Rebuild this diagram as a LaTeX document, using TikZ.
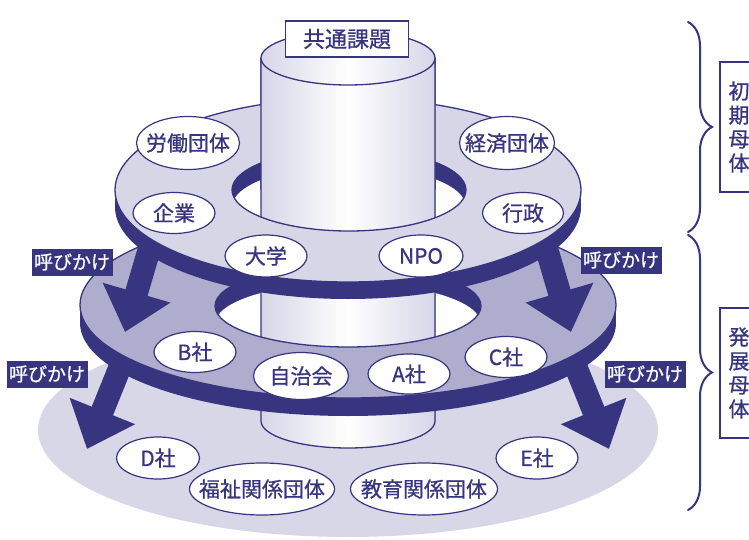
\documentclass[tikz,border=0pt]{standalone}
\usepackage{fontspec}
\setmainfont{Noto Sans CJK JP}[UprightFeatures={FakeBold=0.8}]
\usetikzlibrary{shapes.geometric,arrows.meta,decorations.pathreplacing}
\definecolor{navy}{HTML}{37357F}
\definecolor{disca}{HTML}{D6D6E7}
\definecolor{discb}{HTML}{AEADCD}
\definecolor{basec}{HTML}{D7D7E8}
\definecolor{cylc}{HTML}{D6D6E8}
\newcommand\pillarbody{%
  \fill[left color=cylc,right color=cylc,middle color=white] (261,58) -- (261,421) arc[start angle=180,end angle=0,x radius=87,y radius=27] -- (435,58) -- cycle;
  \draw[navy,line width=1.3] (261,58) -- (261,421) arc[start angle=180,end angle=0,x radius=87,y radius=27] -- (435,58);
}
\tikzset{
  lab/.style={ellipse,draw=navy,fill=white,line width=1.2,text=navy,inner xsep=-45pt,inner ysep=-15pt,font=\fontsize{21}{21}\selectfont},
  callbox/.style={rectangle,fill=navy,text=white,inner sep=0pt,minimum width=81,minimum height=27,font=\fontsize{19}{19}\selectfont},
  bigarrow/.style={navy,line width=23pt,-{Triangle[length=41pt,width=68pt]}},
  bracestyle/.style={navy,line width=2,line cap=round,decorate,decoration={brace,amplitude=24pt}},
  vbox/.style={navy,line width=1.3},
  vtext/.style={text=navy,align=center,inner sep=0pt,font=\fontsize{21}{24}\selectfont}
}
\begin{document}
\begin{tikzpicture}[x=1pt,y=-1pt]
\useasboundingbox (0,0) rectangle (749,540);
% base level
\fill[basec] (348,430) ellipse (310 and 107);
% lower arrows
\coordinate (lla) at (127,350);
\coordinate (llb) at (87,449);
\coordinate (lra) at (569,350);
\coordinate (lrb) at (609,449);
\draw[bigarrow] (lla) -- (llb);
\draw[bigarrow] (lra) -- (lrb);
% pillar
\pillarbody
% second disc
\fill[navy] (348,323) ellipse (268 and 93);
\fill[navy] (80,305) rectangle (616,323);
\filldraw[fill=discb,draw=navy,line width=1.3] (348,305) ellipse (268 and 93);
\fill[navy] (348,306) ellipse (133 and 41);
\begin{scope}
  \clip (348,306) ellipse (133 and 41);
  \fill[white] (348,324) ellipse (133 and 41);
  \pillarbody
\end{scope}
\draw[navy,line width=1.3] (348,306) ellipse (133 and 41);
% second-level labels
\node[lab,minimum width=82,minimum height=41] (b) at (195,352) {B社};
\node[lab,minimum width=95,minimum height=47] (jichi) at (301,376) {自治会};
\node[lab,minimum width=82,minimum height=40] (a) at (409,374) {A社};
\node[lab,minimum width=82,minimum height=41] (c) at (506,357) {C社};
% third-level labels
\node[lab,minimum width=83,minimum height=42] (d) at (158,458) {D社};
\node[lab,minimum width=145,minimum height=52] (fukushi) at (262,489) {福祉関係団体};
\node[lab,minimum width=147,minimum height=52] (kyoiku) at (424,489) {教育関係団体};
\node[lab,minimum width=82,minimum height=42] (e) at (537,458) {E社};
% upper arrows
\coordinate (ula) at (152,240);
\coordinate (ulb) at (125,332);
\coordinate (ura) at (544,240);
\coordinate (urb) at (571,332);
\draw[bigarrow] (ula) -- (ulb);
\draw[bigarrow] (ura) -- (urb);
% top disc
\fill[navy] (348,207) ellipse (233 and 92);
\fill[navy] (115,190) rectangle (581,207);
\filldraw[fill=disca,draw=navy,line width=1.3] (348,190) ellipse (233 and 92);
\fill[navy] (349,190) ellipse (117 and 41);
\begin{scope}
  \clip (349,190) ellipse (117 and 41);
  \fill[white] (349,207) ellipse (117 and 41);
  \pillarbody
\end{scope}
\draw[navy,line width=1.3] (349,190) ellipse (117 and 41);
\begin{scope}
  \clip (0,0) rectangle (749,190);
  \pillarbody
\end{scope}
% pillar top
\filldraw[left color=cylc,right color=cylc,middle color=white,draw=navy,line width=1.3] (348,58) ellipse (87 and 27);
\node[rectangle,draw=navy,fill=white,line width=1.3,text=navy,minimum width=123,minimum height=36,inner sep=0pt,font=\fontsize{22}{22}\selectfont] (kadai) at (347,39) {共通課題};
% top-level labels
\node[lab,minimum width=103,minimum height=53] (rodo) at (188,143) {労働団体};
\node[lab,minimum width=95,minimum height=53] (keizai) at (507,143) {経済団体};
\node[lab,minimum width=82,minimum height=41] (kigyo) at (174,213) {企業};
\node[lab,minimum width=81,minimum height=41] (gyosei) at (523,213) {行政};
\node[lab,minimum width=82,minimum height=42] (daigaku) at (266,256) {大学};
\node[lab,minimum width=84,minimum height=42] (npo) at (421,256) {NPO};
% call labels
\node[callbox] (c1) at (72,262) {呼びかけ};
\node[callbox] (c2) at (621,260) {呼びかけ};
\node[callbox] (c3) at (47,374) {呼びかけ};
\node[callbox] (c4) at (645,374) {呼びかけ};
% braces
\coordinate (br1a) at (688,22);
\coordinate (br1b) at (688,232);
\coordinate (br2a) at (688,235);
\coordinate (br2b) at (688,510);
\draw[bracestyle] (br1a) -- (br1b);
\draw[bracestyle] (br2a) -- (br2b);
% side boxes
\draw[vbox] (760,62) -- (720,62) -- (720,192) -- (760,192);
\node[vtext] (shoki) at (739,127) {初\\期\\母\\体};
\draw[vbox] (760,308) -- (720,308) -- (720,438) -- (760,438);
\node[vtext] (hatten) at (739,373) {発\\展\\母\\体};
\end{tikzpicture}
\end{document}
